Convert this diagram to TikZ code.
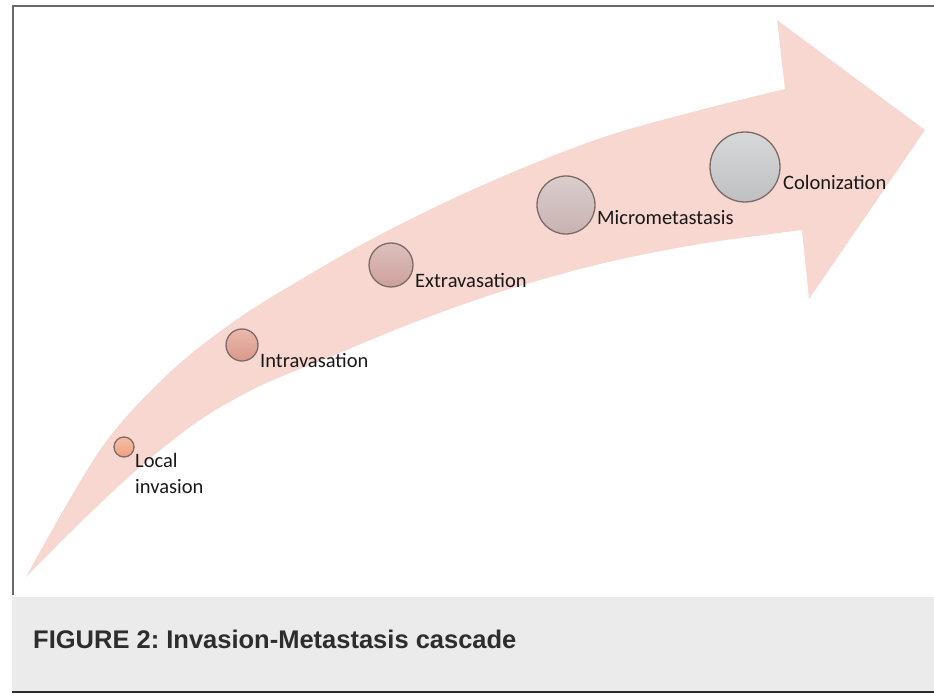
\documentclass[tikz,border=0pt]{standalone}
\usepackage{fontspec}
\setmainfont{Liberation Sans}
\newfontfamily\lblfont{Carlito}
\definecolor{arrowpink}{RGB}{248,215,208}
\definecolor{framegray}{RGB}{105,105,105}
\definecolor{capgray}{RGB}{235,235,235}
\definecolor{capline}{RGB}{45,45,45}
\definecolor{ringcol}{RGB}{125,106,102}
\definecolor{txtcol}{RGB}{25,25,25}
\definecolor{ctopa}{RGB}{246,190,165}
\definecolor{cbota}{RGB}{238,160,130}
\definecolor{ctopb}{RGB}{232,185,172}
\definecolor{cbotb}{RGB}{218,152,138}
\definecolor{ctopc}{RGB}{220,192,188}
\definecolor{cbotc}{RGB}{205,160,156}
\definecolor{ctopd}{RGB}{218,206,206}
\definecolor{cbotd}{RGB}{200,178,177}
\definecolor{ctope}{RGB}{214,216,217}
\definecolor{cbote}{RGB}{190,192,193}
\begin{document}
\frenchspacing
\begin{tikzpicture}[x=1pt,y=-1pt,
  stage/.style={circle, draw=ringcol, line width=1.3pt, inner sep=0pt},
  lbl/.style={font=\lblfont\fontsize{20.5}{25.5}\selectfont, text=txtcol, inner sep=0pt, anchor=base west, align=left}]
\useasboundingbox (0,0) rectangle (934,695);
% frame
\draw[framegray, line width=2pt] (12,6) -- (934,6);
\draw[framegray, line width=2pt] (13,5) -- (13,595);
% arrow
\fill[arrowpink] plot[smooth, tension=0.55] coordinates {(26,577) (100,450) (167,375) (233,322) (300,280) (370,240) (450,200) (530,165) (610,135) (700,110) (785,89)}
  -- (777,20) -- (925,130) -- (809,299) -- (802,230)
  -- plot[smooth, tension=0.55] coordinates {(802,230) (700,244) (600,264) (500,292) (410,324) (330,357) (260,386) (200,420) (140,467) (85,518) (26,577)} -- cycle;
% stages
\node[stage, minimum size=20pt, top color=ctopa, bottom color=cbota] (c1) at (124,447) {};
\node[stage, minimum size=32pt, top color=ctopb, bottom color=cbotb] (c2) at (242,345) {};
\node[stage, minimum size=44pt, top color=ctopc, bottom color=cbotc] (c3) at (391,265) {};
\node[stage, minimum size=58pt, top color=ctopd, bottom color=cbotd] (c4) at (566,205) {};
\node[stage, minimum size=70pt, top color=ctope, bottom color=cbote] (c5) at (745,167) {};
% labels
\node[lbl] (l1) at (135,493) {Local\\invasion};
\node[lbl] (l2) at (260,367) {Intravasation};
\node[lbl] (l3) at (415,287) {Extravasation};
\node[lbl] (l4) at (597,225) {Micrometastasis};
\node[lbl] (l5) at (783,190) {Colonization};
% caption
\fill[capgray] (12,597) rectangle (934,692);
\draw[capline, line width=1.5pt] (12,692) -- (934,692);
\node[anchor=base west, inner sep=0pt, text=capline, font=\bfseries\fontsize{25.5}{30}\selectfont] (cap) at (33,648) {FIGURE 2: Invasion-Metastasis cascade};
\end{tikzpicture}
\end{document}
